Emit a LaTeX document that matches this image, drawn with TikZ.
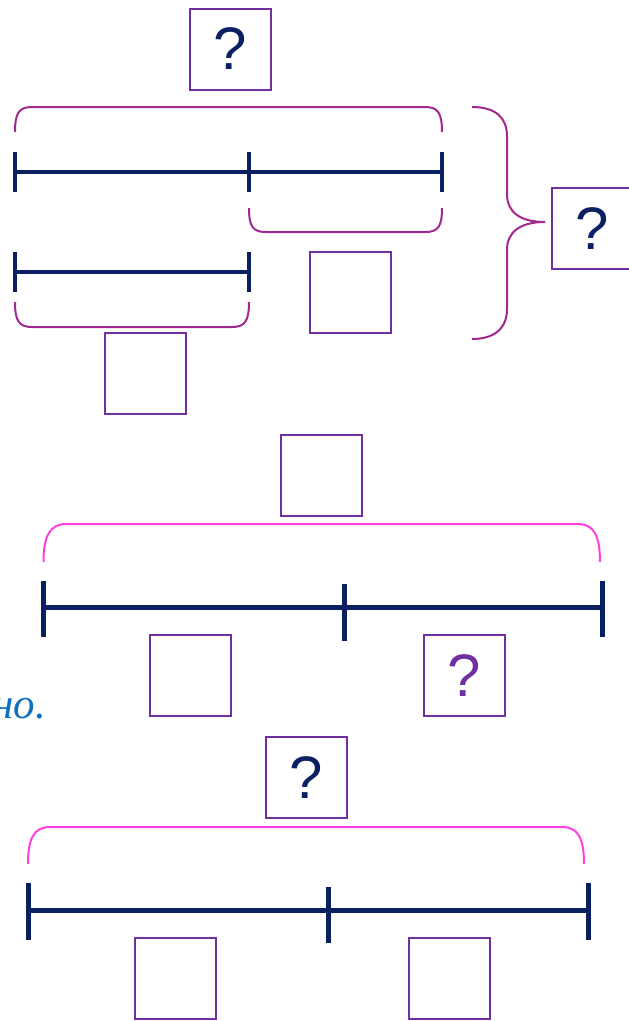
\documentclass[tikz,border=0pt]{standalone}
\usepackage{fontspec}
\setmainfont{Liberation Sans}
\newfontfamily\notefont{Liberation Serif}
\definecolor{navy}{RGB}{10,32,96}
\definecolor{boxpurple}{RGB}{112,48,160}
\definecolor{bracepurple}{RGB}{160,40,144}
\definecolor{bracepink}{RGB}{255,64,224}
\definecolor{noteblue}{RGB}{16,112,192}

\begin{document}
\begin{tikzpicture}[x=1pt, y=-1pt,
	answer/.style={draw=boxpurple, line width=2pt, minimum size=81pt, inner sep=0pt, font=\fontsize{60}{60}\selectfont, text=navy},
	seg/.style={navy, line width=4pt},
	bigseg/.style={navy, line width=5pt},
	brace/.style={bracepurple, line width=2pt},
	pinkbrace/.style={bracepink, line width=2pt}]
	\useasboundingbox (0,0) rectangle (629,1021);

	\node[answer] (q1) at (230,49) {?};
	\node[answer] (r1) at (350,292) {};
	\node[answer] (l1) at (145,373) {};
	\node[answer] (q2) at (592,228.5) {?};
	\coordinate (a1) at (15,172);
	\coordinate (a2) at (249,172);
	\coordinate (a3) at (442,172);
	\coordinate (b1) at (15,272);
	\coordinate (b2) at (249,272);
	\draw[seg] (a1) -- (a3);
	\draw[seg] ([yshift=20pt]a1) -- ([yshift=-20pt]a1);
	\draw[seg] ([yshift=20pt]a2) -- ([yshift=-20pt]a2);
	\draw[seg] ([yshift=20pt]a3) -- ([yshift=-20pt]a3);
	\draw[seg] (b1) -- (b2);
	\draw[seg] ([yshift=20pt]b1) -- ([yshift=-20pt]b1);
	\draw[seg] ([yshift=20pt]b2) -- ([yshift=-20pt]b2);
	\draw[brace] (15,132) .. controls (15,113) and (19,107) .. (32,107) -- (425,107) .. controls (438,107) and (442,113) .. (442,132);
	\draw[brace] (249,208) .. controls (249,227) and (253,232) .. (266,232) -- (425,232) .. controls (438,232) and (442,227) .. (442,208);
	\draw[brace] (15,302) .. controls (15,321) and (19,327) .. (32,327) -- (232,327) .. controls (245,327) and (249,321) .. (249,302);
	\draw[brace] (472,107) .. controls (496,107) and (507,118) .. (507,136) -- (507,194) .. controls (507,212) and (520,222) .. (545,222)
		.. controls (520,222) and (507,232) .. (507,250) -- (507,309) .. controls (507,327) and (496,339) .. (472,339);

	\node[answer] (s2) at (321.5,475) {};
	\node[answer] (l2) at (190.5,675.5) {};
	\node[answer, text=boxpurple] (q3) at (464.5,675.5) {?};
	\coordinate (c1) at (43.5,607);
	\coordinate (c2) at (344,607);
	\coordinate (c3) at (602,607);
	\draw[bigseg] (c1) -- (c3);
	\draw[bigseg] ([yshift=26pt]c1) -- ([yshift=-30pt]c1);
	\draw[bigseg] ([yshift=23pt]c2) -- ([yshift=-34pt]c2);
	\draw[bigseg] ([yshift=26pt]c3) -- ([yshift=-30pt]c3);
	\draw[pinkbrace] (43.5,562) .. controls (43.5,536) and (50,524) .. (66,524) -- (578,524) .. controls (594,524) and (600,536) .. (600,562);
	\node[font=\notefont\itshape\fontsize{43}{43}\selectfont, text=noteblue, anchor=base east, inner sep=0pt] (note) at (46,718) {но.};

	\node[answer] (q4) at (306.5,777.5) {?};
	\node[answer] (l3) at (175.5,978) {};
	\node[answer] (r3) at (449.5,978) {};
	\coordinate (d1) at (28,910);
	\coordinate (d2) at (328.5,910);
	\coordinate (d3) at (588,910);
	\draw[bigseg] (d1) -- (d3);
	\draw[bigseg] ([yshift=27pt]d1) -- ([yshift=-30pt]d1);
	\draw[bigseg] ([yshift=23pt]d2) -- ([yshift=-33pt]d2);
	\draw[bigseg] ([yshift=27pt]d3) -- ([yshift=-30pt]d3);
	\draw[pinkbrace] (28,864) .. controls (28,838) and (34,827) .. (50,827) -- (562,827) .. controls (578,827) and (584,838) .. (584,864);
\end{tikzpicture}
\end{document}
